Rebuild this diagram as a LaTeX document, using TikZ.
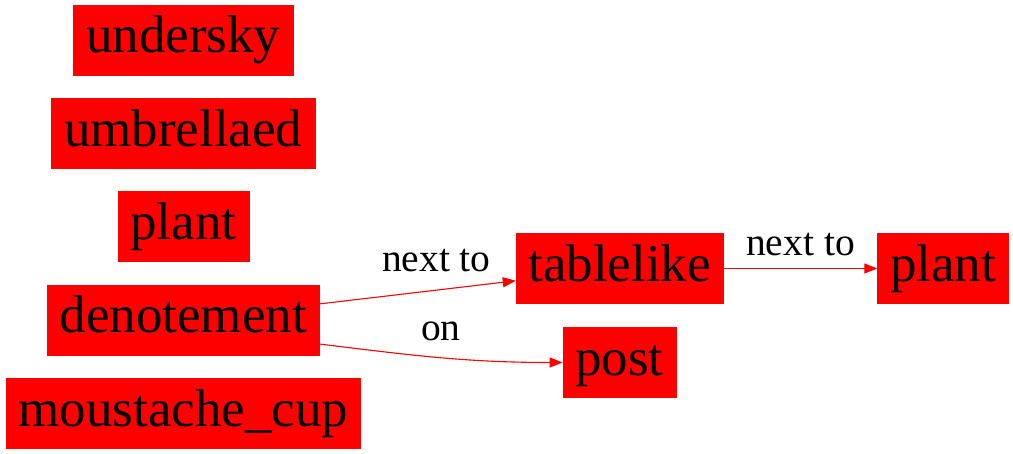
\documentclass[tikz,border=0pt]{standalone}
\usepackage{fontspec}
\setmainfont{Liberation Serif}
\usepackage{tikz}
\usetikzlibrary{arrows.meta,positioning}

\begin{document}
\begin{tikzpicture}[
    x=1pt, y=1pt,
    word/.style={draw=red, fill=red, inner xsep=12.5pt, inner ysep=0pt,
      text height=48pt, text depth=22pt, font=\fontsize{53}{60}\selectfont},
    rel/.style={-{Triangle[length=13pt,width=10pt]}, draw=red, line width=1.1pt},
    lbl/.style={anchor=base, inner sep=0pt, font=\fontsize{39.5}{44}\selectfont}
  ]
    \useasboundingbox (0,0) rectangle (1013,453);

    \node[word] (undersky) at (183.2,413.2) {undersky};
    \node[word] (umbrellaed) at (183.2,319.7) {umbrellaed};
    \node[word] (plant) at (183.3,226.3) {plant};
    \node[word] (denotement) at (183.3,133) {denotement};
    \node[word] (moustache) at (183.3,40) {moustache\_cup};

    \node[word] (tablelike) at (619.7,184.5) {tablelike};
    \node[word] (plantb) at (943,184.5) {plant};
    \node[word] (post) at (619.5,90.5) {post};

    \draw[rel] (denotement) -- node[lbl, pos=0.595, yshift=18.5pt] {next to} (tablelike);
    \draw[rel] (denotement.-10) to[out=-7, in=180] node[lbl, pos=0.5, yshift=17pt] {on} (post);
    \draw[rel] (tablelike) -- node[lbl, pos=0.5, yshift=13pt] {next to} (plantb);
  \end{tikzpicture}
\end{document}
